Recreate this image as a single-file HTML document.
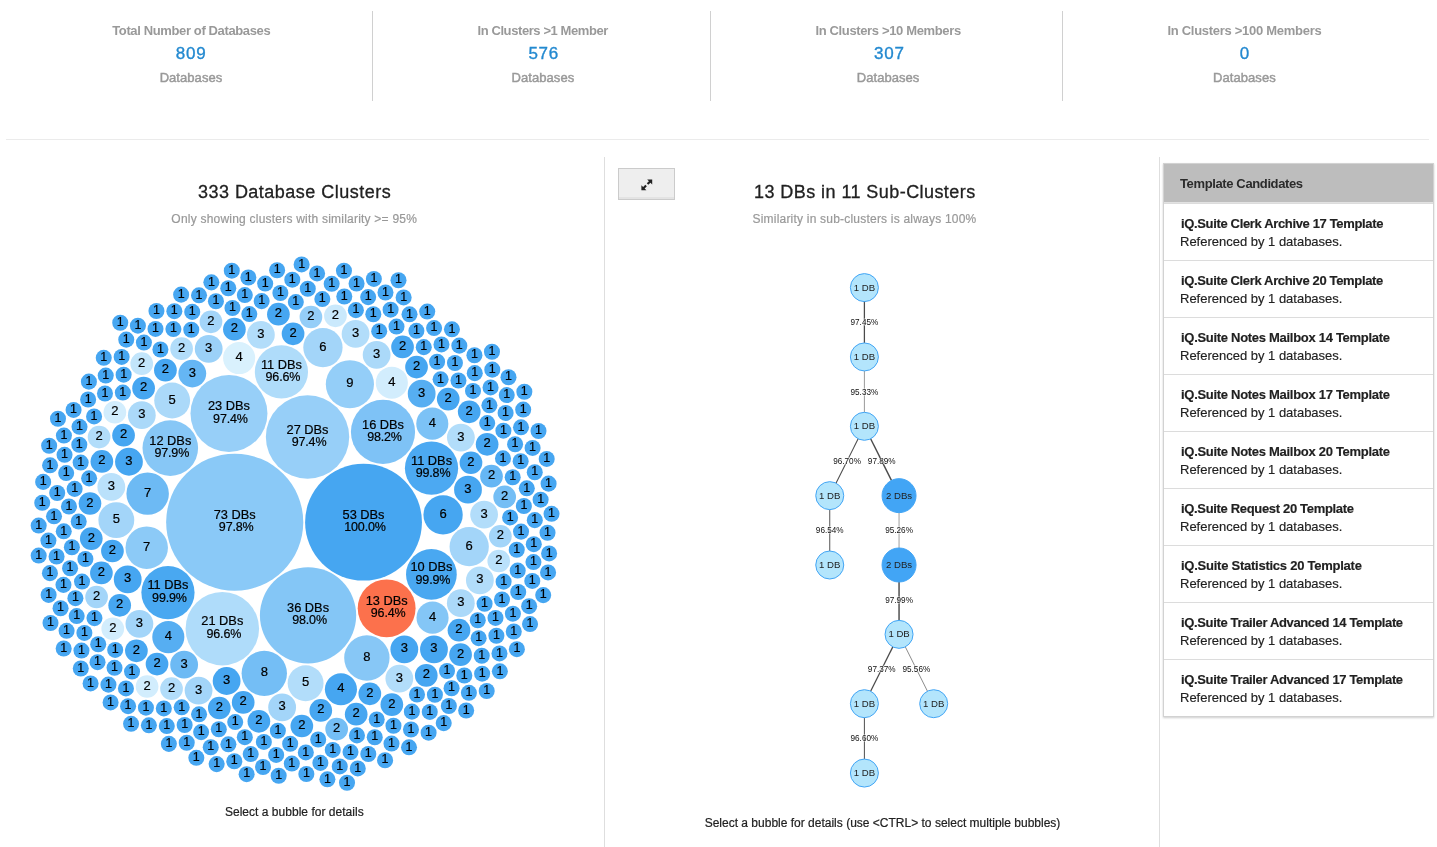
<!DOCTYPE html>
<html lang="en"><head><meta charset="utf-8"><title>Database Clusters</title>
<style>
html,body{margin:0;padding:0;background:#fff}
body{width:1437px;height:847px;position:relative;overflow:hidden;font-family:"Liberation Sans",sans-serif;color:#212121}
.t{position:absolute;white-space:nowrap}
.tm{-webkit-text-stroke:0.45px #999}
.tt{-webkit-text-stroke:0.3px #212121}
.ts{-webkit-text-stroke:0.2px #999}
.tv{-webkit-text-stroke:0.35px #2389d0}
.tc{-webkit-text-stroke:0.2px #212121}
.vr{position:absolute;width:1px;background:#d0d0d0}
.hr{position:absolute;height:1px;background:#ebebeb}
svg{position:absolute;overflow:visible}
.btn{position:absolute;left:618px;top:168px;width:55px;height:30px;border:1px solid #cbcbcb;background:#eee;box-shadow:inset 0 -2px 0 #e3e3e3}
.card{position:absolute;left:1163px;top:163px;width:269px;border:1px solid #d2d2d2;box-shadow:0 1px 2px rgba(0,0,0,.2);background:#fff;box-sizing:content-box}
.card-h{height:38px;border-bottom:1px solid #e2e2e2;background:#bdbdbd;font-weight:700;font-size:13px;line-height:39px;padding-left:16px;color:#2b2b2b;white-space:nowrap}
.card ul{list-style:none;margin:0;padding:0}
.card li{height:56px;border-top:1px solid #dcdcdc;padding-left:16px;box-sizing:content-box;font-size:13px;white-space:nowrap;position:relative}
.card li:first-child{border-top:1px solid #dcdcdc}
.card li b{position:absolute;left:17px;top:11px;line-height:17px;font-weight:700;color:#212121}
.card li span,.card li b{-webkit-text-stroke:0.15px #212121}
.card li span{position:absolute;left:16px;top:29px;line-height:17px;color:#212121}
</style></head><body>
<div class="stats"><div class="stat"><div class="t " style="top:22px;font-size:13px;line-height:18px;color:#999;font-weight:700;letter-spacing:-0.371px;left:191.01px;width:600px;margin-left:-300px;text-align:center;transform:translateX(0.25px);"><span id="st0">Total Number of Databases</span></div><div class="t tv" style="top:42px;font-size:17px;line-height:24px;color:#2389d0;font-weight:400;letter-spacing:0.750px;left:191.57px;width:600px;margin-left:-300px;text-align:center;transform:translateX(-0.40px);"><span id="sv0">809</span></div><div class="t tm" style="top:69px;font-size:13px;line-height:18px;color:#999;font-weight:400;letter-spacing:0.050px;left:191.22px;width:600px;margin-left:-300px;text-align:center;transform:translateX(-0.25px);"><span id="sd0">Databases</span></div></div><div class="stat"><div class="t " style="top:22px;font-size:13px;line-height:18px;color:#999;font-weight:700;letter-spacing:-0.405px;left:543.00px;width:600px;margin-left:-300px;text-align:center;transform:translateX(-0.25px);"><span id="st1">In Clusters &gt;1 Member</span></div><div class="t tv" style="top:42px;font-size:17px;line-height:24px;color:#2389d0;font-weight:400;letter-spacing:0.750px;left:543.58px;width:600px;margin-left:-300px;text-align:center;transform:translateX(0.15px);"><span id="sv1">576</span></div><div class="t tm" style="top:69px;font-size:13px;line-height:18px;color:#999;font-weight:400;letter-spacing:0.050px;left:543.23px;width:600px;margin-left:-300px;text-align:center;transform:translateX(-0.30px);"><span id="sd1">Databases</span></div></div><div class="stat"><div class="t " style="top:22px;font-size:13px;line-height:18px;color:#999;font-weight:700;letter-spacing:-0.355px;left:888.12px;width:600px;margin-left:-300px;text-align:center;"><span id="st2">In Clusters &gt;10 Members</span></div><div class="t tv" style="top:42px;font-size:17px;line-height:24px;color:#2389d0;font-weight:400;letter-spacing:0.750px;left:888.67px;width:600px;margin-left:-300px;text-align:center;transform:translateX(0.65px);"><span id="sv2">307</span></div><div class="t tm" style="top:69px;font-size:13px;line-height:18px;color:#999;font-weight:400;letter-spacing:0.050px;left:888.32px;width:600px;margin-left:-300px;text-align:center;transform:translateX(-0.25px);"><span id="sd2">Databases</span></div></div><div class="stat"><div class="t " style="top:22px;font-size:13px;line-height:18px;color:#999;font-weight:700;letter-spacing:-0.283px;left:1244.16px;width:600px;margin-left:-300px;text-align:center;transform:translateX(0.25px);"><span id="st3">In Clusters &gt;100 Members</span></div><div class="t tv" style="top:42px;font-size:17px;line-height:24px;color:#2389d0;font-weight:400;left:1244.30px;width:600px;margin-left:-300px;text-align:center;transform:translateX(0.15px);"><span id="sv3">0</span></div><div class="t tm" style="top:69px;font-size:13px;line-height:18px;color:#999;font-weight:400;letter-spacing:0.050px;left:1244.33px;width:600px;margin-left:-300px;text-align:center;transform:translateX(0.10px);"><span id="sd3">Databases</span></div></div></div>
<div class="vr" style="left:372px;top:11px;height:90px"></div>
<div class="vr" style="left:710px;top:11px;height:90px"></div>
<div class="vr" style="left:1062px;top:11px;height:90px"></div>
<div class="hr" style="left:6px;top:139px;width:1423px"></div>
<div class="vr" style="left:604px;top:157px;height:690px;background:#dedede"></div>
<div class="vr" style="left:1159px;top:157px;height:690px;background:#dedede"></div>
<section class="left">
<div class="t tt" style="top:180px;font-size:18px;line-height:25px;color:#212121;font-weight:400;letter-spacing:0.480px;left:294.64px;width:600px;margin-left:-300px;text-align:center;transform:translateX(-0.10px);"><span id="t1">333 Database Clusters</span></div>
<div class="t ts" style="top:211px;font-size:12px;line-height:17px;color:#999;font-weight:400;letter-spacing:0.219px;left:294.41px;width:600px;margin-left:-300px;text-align:center;transform:translateX(-0.20px);"><span id="t2">Only showing clusters with similarity &gt;= 95%</span></div>
<svg class="pack" width="550.0" height="550.0" viewBox="0 0 550.0 550.0" style="left:19.15px;top:247.8px"><g><circle cx="215.71" cy="274.20" r="68.55" fill="#8ac9f7"/><circle cx="344.52" cy="274.20" r="58.41" fill="#46a6f1"/><circle cx="289.05" cy="367.33" r="48.14" fill="#84c6f6"/><circle cx="288.54" cy="189.00" r="41.69" fill="#97cff8"/><circle cx="209.97" cy="165.48" r="38.48" fill="#97cff8"/><circle cx="203.32" cy="380.64" r="36.76" fill="#afdcfa"/><circle cx="364.00" cy="183.93" r="32.09" fill="#7ec2f6"/><circle cx="367.65" cy="360.33" r="28.93" fill="#fc714c"/><circle cx="151.30" cy="200.09" r="27.79" fill="#87c7f6"/><circle cx="148.97" cy="344.59" r="26.61" fill="#49a8f1"/><circle cx="412.53" cy="220.15" r="26.61" fill="#4ca9f2"/><circle cx="262.42" cy="123.89" r="26.61" fill="#afdcfa"/><circle cx="412.39" cy="326.40" r="25.37" fill="#49a8f1"/><circle cx="330.89" cy="136.29" r="24.07" fill="#94cef8"/><circle cx="245.28" cy="425.35" r="22.69" fill="#74bef5"/><circle cx="347.88" cy="410.01" r="22.69" fill="#87c7f6"/><circle cx="128.65" cy="245.64" r="21.23" fill="#6dbaf4"/><circle cx="127.71" cy="299.68" r="21.23" fill="#8ccaf7"/><circle cx="424.09" cy="266.85" r="19.65" fill="#46a6f1"/><circle cx="450.19" cy="298.68" r="19.65" fill="#a3d5f9"/><circle cx="303.93" cy="99.55" r="19.65" fill="#a3d5f9"/><circle cx="97.33" cy="272.12" r="17.94" fill="#a3d5f9"/><circle cx="153.16" cy="152.54" r="17.94" fill="#abd9f9"/><circle cx="286.60" cy="435.21" r="17.94" fill="#b2ddfa"/><circle cx="321.93" cy="441.23" r="16.05" fill="#46a6f1"/><circle cx="149.32" cy="389.10" r="16.05" fill="#56aef2"/><circle cx="413.54" cy="369.66" r="16.05" fill="#84c6f6"/><circle cx="413.30" cy="175.65" r="16.05" fill="#7cc2f6"/><circle cx="372.83" cy="134.72" r="16.05" fill="#d2edfd"/><circle cx="220.13" cy="110.03" r="16.05" fill="#d9f1fd"/><circle cx="385.33" cy="401.36" r="13.90" fill="#46a6f1"/><circle cx="207.61" cy="432.98" r="13.90" fill="#46a6f1"/><circle cx="109.96" cy="213.74" r="13.90" fill="#46a6f1"/><circle cx="108.71" cy="331.41" r="13.90" fill="#46a6f1"/><circle cx="448.99" cy="241.69" r="13.90" fill="#46a6f1"/><circle cx="414.97" cy="401.42" r="13.90" fill="#46a6f1"/><circle cx="402.67" cy="145.69" r="13.90" fill="#56aef2"/><circle cx="165.13" cy="416.68" r="13.90" fill="#6dbaf4"/><circle cx="173.30" cy="125.54" r="13.90" fill="#65b6f4"/><circle cx="263.14" cy="459.39" r="13.90" fill="#a3d5f9"/><circle cx="189.69" cy="100.84" r="13.90" fill="#9bd1f8"/><circle cx="441.82" cy="355.13" r="13.90" fill="#abd9f9"/><circle cx="120.41" cy="375.87" r="13.90" fill="#a3d5f9"/><circle cx="179.56" cy="442.58" r="13.90" fill="#a3d5f9"/><circle cx="122.81" cy="167.17" r="13.90" fill="#abd9f9"/><circle cx="441.87" cy="189.61" r="13.90" fill="#b2ddfa"/><circle cx="357.63" cy="106.80" r="13.90" fill="#abd9f9"/><circle cx="380.35" cy="430.58" r="13.90" fill="#b2ddfa"/><circle cx="465.11" cy="266.58" r="13.90" fill="#b2ddfa"/><circle cx="460.88" cy="332.42" r="13.90" fill="#b2ddfa"/><circle cx="336.59" cy="85.91" r="13.90" fill="#b2ddfa"/><circle cx="241.89" cy="86.84" r="13.90" fill="#b2ddfa"/><circle cx="92.32" cy="238.81" r="13.90" fill="#bae1fb"/><circle cx="93.44" cy="303.02" r="11.35" fill="#46a6f1"/><circle cx="100.69" cy="357.29" r="11.35" fill="#46a6f1"/><circle cx="350.82" cy="445.78" r="11.35" fill="#46a6f1"/><circle cx="104.56" cy="187.19" r="11.35" fill="#46a6f1"/><circle cx="224.20" cy="454.40" r="11.35" fill="#46a6f1"/><circle cx="274.08" cy="85.83" r="11.35" fill="#46a6f1"/><circle cx="82.86" cy="213.42" r="11.35" fill="#46a6f1"/><circle cx="82.40" cy="324.94" r="11.35" fill="#46a6f1"/><circle cx="451.97" cy="214.76" r="11.35" fill="#46a6f1"/><circle cx="301.77" cy="462.41" r="11.35" fill="#46a6f1"/><circle cx="239.88" cy="473.28" r="11.35" fill="#46a6f1"/><circle cx="468.13" cy="196.29" r="11.35" fill="#46a6f1"/><circle cx="282.82" cy="478.01" r="11.35" fill="#46a6f1"/><circle cx="138.04" cy="416.08" r="11.35" fill="#46a6f1"/><circle cx="372.84" cy="456.62" r="11.35" fill="#46a6f1"/><circle cx="429.22" cy="151.12" r="11.35" fill="#46a6f1"/><circle cx="397.54" cy="119.08" r="11.35" fill="#46a6f1"/><circle cx="146.41" cy="122.14" r="11.35" fill="#46a6f1"/><circle cx="259.40" cy="66.16" r="11.35" fill="#46a6f1"/><circle cx="439.98" cy="382.16" r="11.35" fill="#46a6f1"/><circle cx="117.40" cy="402.80" r="11.35" fill="#46a6f1"/><circle cx="407.25" cy="427.39" r="11.35" fill="#46a6f1"/><circle cx="450.21" cy="163.83" r="11.35" fill="#46a6f1"/><circle cx="383.55" cy="98.91" r="11.35" fill="#46a6f1"/><circle cx="441.56" cy="406.65" r="11.35" fill="#46a6f1"/><circle cx="124.60" cy="140.13" r="11.35" fill="#46a6f1"/><circle cx="200.31" cy="460.00" r="11.35" fill="#46a6f1"/><circle cx="72.27" cy="290.60" r="11.35" fill="#46a6f1"/><circle cx="337.18" cy="466.18" r="11.35" fill="#46a6f1"/><circle cx="70.99" cy="255.52" r="11.35" fill="#46a6f1"/><circle cx="215.40" cy="81.17" r="11.35" fill="#46a6f1"/><circle cx="472.50" cy="228.21" r="11.35" fill="#65b6f4"/><circle cx="317.68" cy="481.09" r="11.35" fill="#74bef5"/><circle cx="485.67" cy="248.92" r="11.35" fill="#74bef5"/><circle cx="191.97" cy="73.84" r="11.35" fill="#a3d5f9"/><circle cx="291.92" cy="68.98" r="11.35" fill="#94cef8"/><circle cx="481.34" cy="288.27" r="11.35" fill="#a3d5f9"/><circle cx="80.08" cy="189.03" r="11.35" fill="#b2ddfa"/><circle cx="77.59" cy="349.00" r="11.35" fill="#a3d5f9"/><circle cx="162.60" cy="100.64" r="11.35" fill="#b2ddfa"/><circle cx="152.53" cy="440.67" r="11.35" fill="#b2ddfa"/><circle cx="479.76" cy="312.99" r="11.35" fill="#bae1fb"/><circle cx="122.74" cy="115.66" r="11.35" fill="#c2e5fb"/><circle cx="95.87" cy="164.23" r="11.35" fill="#d2edfd"/><circle cx="316.44" cy="67.80" r="11.35" fill="#cae9fc"/><circle cx="93.77" cy="380.84" r="11.35" fill="#d2edfd"/><circle cx="128.08" cy="438.51" r="11.35" fill="#d2edfd"/><circle cx="465.58" cy="355.72" r="8.02" fill="#46a6f1"/><circle cx="421.60" cy="131.31" r="8.02" fill="#46a6f1"/><circle cx="418.08" cy="113.76" r="8.02" fill="#46a6f1"/><circle cx="141.40" cy="101.52" r="8.02" fill="#46a6f1"/><circle cx="66.40" cy="311.00" r="8.02" fill="#46a6f1"/><circle cx="458.76" cy="372.27" r="8.02" fill="#46a6f1"/><circle cx="360.20" cy="83.16" r="8.02" fill="#46a6f1"/><circle cx="59.71" cy="273.49" r="8.02" fill="#46a6f1"/><circle cx="216.21" cy="474.06" r="8.02" fill="#46a6f1"/><circle cx="103.85" cy="144.57" r="8.02" fill="#46a6f1"/><circle cx="70.10" cy="230.37" r="8.02" fill="#46a6f1"/><circle cx="258.86" cy="482.77" r="8.02" fill="#46a6f1"/><circle cx="357.72" cy="471.51" r="8.02" fill="#46a6f1"/><circle cx="225.81" cy="489.16" r="8.02" fill="#46a6f1"/><circle cx="484.00" cy="210.38" r="8.02" fill="#46a6f1"/><circle cx="96.20" cy="401.92" r="8.02" fill="#46a6f1"/><circle cx="271.18" cy="495.75" r="8.02" fill="#46a6f1"/><circle cx="497.75" cy="301.73" r="8.02" fill="#46a6f1"/><circle cx="398.01" cy="446.49" r="8.02" fill="#46a6f1"/><circle cx="428.01" cy="422.99" r="8.02" fill="#46a6f1"/><circle cx="55.62" cy="240.89" r="8.02" fill="#46a6f1"/><circle cx="230.32" cy="66.08" r="8.02" fill="#46a6f1"/><circle cx="299.19" cy="491.51" r="8.02" fill="#46a6f1"/><circle cx="180.05" cy="466.34" r="8.02" fill="#46a6f1"/><circle cx="276.83" cy="54.06" r="8.02" fill="#46a6f1"/><circle cx="377.50" cy="78.57" r="8.02" fill="#46a6f1"/><circle cx="468.21" cy="175.07" r="8.02" fill="#46a6f1"/><circle cx="392.87" cy="463.64" r="8.02" fill="#46a6f1"/><circle cx="491.12" cy="269.43" r="8.02" fill="#46a6f1"/><circle cx="113.02" cy="423.56" r="8.02" fill="#46a6f1"/><circle cx="242.66" cy="53.12" r="8.02" fill="#46a6f1"/><circle cx="172.28" cy="81.76" r="8.02" fill="#46a6f1"/><circle cx="162.67" cy="459.31" r="8.02" fill="#46a6f1"/><circle cx="75.07" cy="168.41" r="8.02" fill="#46a6f1"/><circle cx="439.46" cy="132.53" r="8.02" fill="#46a6f1"/><circle cx="75.46" cy="370.12" r="8.02" fill="#46a6f1"/><circle cx="404.77" cy="99.13" r="8.02" fill="#46a6f1"/><circle cx="454.01" cy="142.95" r="8.02" fill="#46a6f1"/><circle cx="484.62" cy="333.64" r="8.02" fill="#46a6f1"/><circle cx="482.97" cy="351.46" r="8.02" fill="#46a6f1"/><circle cx="459.64" cy="390.15" r="8.02" fill="#46a6f1"/><circle cx="336.89" cy="62.14" r="8.02" fill="#46a6f1"/><circle cx="199.80" cy="481.22" r="8.02" fill="#46a6f1"/><circle cx="462.75" cy="407.77" r="8.02" fill="#46a6f1"/><circle cx="354.31" cy="66.26" r="8.02" fill="#46a6f1"/><circle cx="63.02" cy="333.57" r="8.02" fill="#46a6f1"/><circle cx="61.67" cy="214.57" r="8.02" fill="#46a6f1"/><circle cx="244.86" cy="493.91" r="8.02" fill="#46a6f1"/><circle cx="337.95" cy="487.39" r="8.02" fill="#46a6f1"/><circle cx="51.08" cy="320.24" r="8.02" fill="#46a6f1"/><circle cx="165.64" cy="476.96" r="8.02" fill="#46a6f1"/><circle cx="60.31" cy="196.73" r="8.02" fill="#46a6f1"/><circle cx="493.69" cy="229.28" r="8.02" fill="#46a6f1"/><circle cx="415.91" cy="446.77" r="8.02" fill="#46a6f1"/><circle cx="476.50" cy="369.91" r="8.02" fill="#46a6f1"/><circle cx="422.46" cy="96.41" r="8.02" fill="#46a6f1"/><circle cx="303.35" cy="51.10" r="8.02" fill="#46a6f1"/><circle cx="52.89" cy="299.26" r="8.02" fill="#46a6f1"/><circle cx="213.47" cy="60.03" r="8.02" fill="#46a6f1"/><circle cx="182.14" cy="484.12" r="8.02" fill="#46a6f1"/><circle cx="432.59" cy="440.29" r="8.02" fill="#46a6f1"/><circle cx="355.74" cy="489.29" r="8.02" fill="#46a6f1"/><circle cx="104.61" cy="126.69" r="8.02" fill="#46a6f1"/><circle cx="196.93" cy="53.21" r="8.02" fill="#46a6f1"/><circle cx="124.91" cy="94.55" r="8.02" fill="#46a6f1"/><circle cx="435.94" cy="114.98" r="8.02" fill="#46a6f1"/><circle cx="44.75" cy="283.32" r="8.02" fill="#46a6f1"/><circle cx="49.97" cy="258.48" r="8.02" fill="#46a6f1"/><circle cx="374.48" cy="477.77" r="8.02" fill="#46a6f1"/><circle cx="501.66" cy="213.25" r="8.02" fill="#46a6f1"/><circle cx="502.05" cy="283.61" r="8.02" fill="#46a6f1"/><circle cx="144.81" cy="460.44" r="8.02" fill="#46a6f1"/><circle cx="286.83" cy="504.45" r="8.02" fill="#46a6f1"/><circle cx="85.97" cy="145.47" r="8.02" fill="#46a6f1"/><circle cx="470.41" cy="157.30" r="8.02" fill="#46a6f1"/><circle cx="231.71" cy="506.06" r="8.02" fill="#46a6f1"/><circle cx="397.40" cy="82.83" r="8.02" fill="#46a6f1"/><circle cx="95.52" cy="419.80" r="8.02" fill="#46a6f1"/><circle cx="445.32" cy="427.54" r="8.02" fill="#46a6f1"/><circle cx="477.38" cy="387.79" r="8.02" fill="#46a6f1"/><circle cx="484.41" cy="182.68" r="8.02" fill="#46a6f1"/><circle cx="154.40" cy="81.07" r="8.02" fill="#46a6f1"/><circle cx="136.50" cy="80.91" r="8.02" fill="#46a6f1"/><circle cx="126.93" cy="459.70" r="8.02" fill="#46a6f1"/><circle cx="498.69" cy="322.58" r="8.02" fill="#46a6f1"/><circle cx="496.09" cy="196.25" r="8.02" fill="#46a6f1"/><circle cx="288.77" cy="40.73" r="8.02" fill="#46a6f1"/><circle cx="504.86" cy="257.96" r="8.02" fill="#46a6f1"/><circle cx="209.40" cy="496.32" r="8.02" fill="#46a6f1"/><circle cx="493.88" cy="365.65" r="8.02" fill="#46a6f1"/><circle cx="390.53" cy="66.30" r="8.02" fill="#46a6f1"/><circle cx="38.20" cy="245.00" r="8.02" fill="#46a6f1"/><circle cx="371.61" cy="61.67" r="8.02" fill="#46a6f1"/><circle cx="261.37" cy="45.03" r="8.02" fill="#46a6f1"/><circle cx="257.17" cy="506.90" r="8.02" fill="#46a6f1"/><circle cx="313.74" cy="501.94" r="8.02" fill="#46a6f1"/><circle cx="47.19" cy="225.09" r="8.02" fill="#46a6f1"/><circle cx="471.56" cy="139.44" r="8.02" fill="#46a6f1"/><circle cx="79.21" cy="396.28" r="8.02" fill="#46a6f1"/><circle cx="56.40" cy="350.20" r="8.02" fill="#46a6f1"/><circle cx="391.99" cy="481.51" r="8.02" fill="#46a6f1"/><circle cx="325.29" cy="48.52" r="8.02" fill="#46a6f1"/><circle cx="65.38" cy="384.91" r="8.02" fill="#46a6f1"/><circle cx="514.77" cy="296.20" r="8.02" fill="#46a6f1"/><circle cx="57.68" cy="368.05" r="8.02" fill="#46a6f1"/><circle cx="246.18" cy="35.57" r="8.02" fill="#46a6f1"/><circle cx="410.76" cy="463.91" r="8.02" fill="#46a6f1"/><circle cx="173.23" cy="63.89" r="8.02" fill="#46a6f1"/><circle cx="331.51" cy="504.09" r="8.02" fill="#46a6f1"/><circle cx="514.45" cy="314.09" r="8.02" fill="#46a6f1"/><circle cx="37.57" cy="308.50" r="8.02" fill="#46a6f1"/><circle cx="225.81" cy="47.07" r="8.02" fill="#46a6f1"/><circle cx="507.79" cy="240.31" r="8.02" fill="#46a6f1"/><circle cx="312.68" cy="35.82" r="8.02" fill="#46a6f1"/><circle cx="455.76" cy="125.14" r="8.02" fill="#46a6f1"/><circle cx="69.13" cy="151.52" r="8.02" fill="#46a6f1"/><circle cx="499.23" cy="343.99" r="8.02" fill="#46a6f1"/><circle cx="86.74" cy="127.58" r="8.02" fill="#46a6f1"/><circle cx="372.51" cy="495.56" r="8.02" fill="#46a6f1"/><circle cx="106.94" cy="440.40" r="8.02" fill="#46a6f1"/><circle cx="35.01" cy="268.30" r="8.02" fill="#46a6f1"/><circle cx="60.51" cy="178.83" r="8.02" fill="#46a6f1"/><circle cx="440.32" cy="97.63" r="8.02" fill="#46a6f1"/><circle cx="449.90" cy="444.84" r="8.02" fill="#46a6f1"/><circle cx="349.17" cy="49.12" r="8.02" fill="#46a6f1"/><circle cx="515.79" cy="272.14" r="8.02" fill="#46a6f1"/><circle cx="455.42" cy="107.24" r="8.02" fill="#46a6f1"/><circle cx="147.78" cy="478.09" r="8.02" fill="#46a6f1"/><circle cx="167.73" cy="494.74" r="8.02" fill="#46a6f1"/><circle cx="463.12" cy="425.67" r="8.02" fill="#46a6f1"/><circle cx="486.60" cy="164.92" r="8.02" fill="#46a6f1"/><circle cx="415.09" cy="80.10" r="8.02" fill="#46a6f1"/><circle cx="155.35" cy="63.20" r="8.02" fill="#46a6f1"/><circle cx="102.63" cy="108.90" r="8.02" fill="#46a6f1"/><circle cx="513.30" cy="332.92" r="8.02" fill="#46a6f1"/><circle cx="480.49" cy="405.41" r="8.02" fill="#46a6f1"/><circle cx="44.46" cy="336.87" r="8.02" fill="#46a6f1"/><circle cx="301.37" cy="514.88" r="8.02" fill="#46a6f1"/><circle cx="273.31" cy="31.70" r="8.02" fill="#46a6f1"/><circle cx="45.54" cy="206.83" r="8.02" fill="#46a6f1"/><circle cx="191.74" cy="499.23" r="8.02" fill="#46a6f1"/><circle cx="78.53" cy="414.16" r="8.02" fill="#46a6f1"/><circle cx="89.44" cy="436.64" r="8.02" fill="#46a6f1"/><circle cx="429.86" cy="457.98" r="8.02" fill="#46a6f1"/><circle cx="349.30" cy="505.99" r="8.02" fill="#46a6f1"/><circle cx="337.57" cy="35.49" r="8.02" fill="#46a6f1"/><circle cx="272.82" cy="515.59" r="8.02" fill="#46a6f1"/><circle cx="215.31" cy="513.22" r="8.02" fill="#46a6f1"/><circle cx="180.02" cy="47.33" r="8.02" fill="#46a6f1"/><circle cx="29.42" cy="292.56" r="8.02" fill="#46a6f1"/><circle cx="384.64" cy="49.40" r="8.02" fill="#46a6f1"/><circle cx="31.06" cy="217.35" r="8.02" fill="#46a6f1"/><circle cx="494.76" cy="383.53" r="8.02" fill="#46a6f1"/><circle cx="24.17" cy="233.88" r="8.02" fill="#46a6f1"/><circle cx="244.03" cy="519.04" r="8.02" fill="#46a6f1"/><circle cx="209.27" cy="40.24" r="8.02" fill="#46a6f1"/><circle cx="229.34" cy="29.52" r="8.02" fill="#46a6f1"/><circle cx="366.47" cy="44.53" r="8.02" fill="#46a6f1"/><circle cx="424.72" cy="475.12" r="8.02" fill="#46a6f1"/><circle cx="107.26" cy="91.61" r="8.02" fill="#46a6f1"/><circle cx="473.31" cy="121.63" r="8.02" fill="#46a6f1"/><circle cx="409.60" cy="484.70" r="8.02" fill="#46a6f1"/><circle cx="510.14" cy="358.17" r="8.02" fill="#46a6f1"/><circle cx="515.76" cy="224.28" r="8.02" fill="#46a6f1"/><circle cx="47.60" cy="382.85" r="8.02" fill="#46a6f1"/><circle cx="298.09" cy="25.45" r="8.02" fill="#46a6f1"/><circle cx="109.09" cy="458.17" r="8.02" fill="#46a6f1"/><circle cx="54.58" cy="161.94" r="8.02" fill="#46a6f1"/><circle cx="502.00" cy="179.35" r="8.02" fill="#46a6f1"/><circle cx="44.91" cy="187.60" r="8.02" fill="#46a6f1"/><circle cx="84.75" cy="109.80" r="8.02" fill="#46a6f1"/><circle cx="23.24" cy="254.83" r="8.02" fill="#46a6f1"/><circle cx="390.01" cy="499.30" r="8.02" fill="#46a6f1"/><circle cx="129.90" cy="477.35" r="8.02" fill="#46a6f1"/><circle cx="408.22" cy="63.57" r="8.02" fill="#46a6f1"/><circle cx="521.62" cy="251.67" r="8.02" fill="#46a6f1"/><circle cx="137.45" cy="63.03" r="8.02" fill="#46a6f1"/><circle cx="487.76" cy="147.06" r="8.02" fill="#46a6f1"/><circle cx="504.19" cy="161.59" r="8.02" fill="#46a6f1"/><circle cx="69.90" cy="133.64" r="8.02" fill="#46a6f1"/><circle cx="30.14" cy="197.71" r="8.02" fill="#46a6f1"/><circle cx="30.94" cy="325.13" r="8.02" fill="#46a6f1"/><circle cx="320.76" cy="518.41" r="8.02" fill="#46a6f1"/><circle cx="62.46" cy="402.57" r="8.02" fill="#46a6f1"/><circle cx="528.51" cy="284.73" r="8.02" fill="#46a6f1"/><circle cx="41.58" cy="360.23" r="8.02" fill="#46a6f1"/><circle cx="513.60" cy="199.92" r="8.02" fill="#46a6f1"/><circle cx="447.17" cy="462.53" r="8.02" fill="#46a6f1"/><circle cx="177.33" cy="509.84" r="8.02" fill="#46a6f1"/><circle cx="258.12" cy="22.23" r="8.02" fill="#46a6f1"/><circle cx="432.94" cy="81.32" r="8.02" fill="#46a6f1"/><circle cx="29.63" cy="346.90" r="8.02" fill="#46a6f1"/><circle cx="19.69" cy="277.55" r="8.02" fill="#46a6f1"/><circle cx="467.70" cy="442.97" r="8.02" fill="#46a6f1"/><circle cx="149.87" cy="495.86" r="8.02" fill="#46a6f1"/><circle cx="532.54" cy="265.84" r="8.02" fill="#46a6f1"/><circle cx="197.65" cy="516.12" r="8.02" fill="#46a6f1"/><circle cx="529.06" cy="324.44" r="8.02" fill="#46a6f1"/><circle cx="366.07" cy="512.26" r="8.02" fill="#46a6f1"/><circle cx="118.89" cy="77.69" r="8.02" fill="#46a6f1"/><circle cx="480.86" cy="423.31" r="8.02" fill="#46a6f1"/><circle cx="287.36" cy="526.02" r="8.02" fill="#46a6f1"/><circle cx="61.78" cy="420.46" r="8.02" fill="#46a6f1"/><circle cx="71.59" cy="435.43" r="8.02" fill="#46a6f1"/><circle cx="324.95" cy="22.79" r="8.02" fill="#46a6f1"/><circle cx="308.40" cy="531.34" r="8.02" fill="#46a6f1"/><circle cx="259.67" cy="527.74" r="8.02" fill="#46a6f1"/><circle cx="212.79" cy="22.70" r="8.02" fill="#46a6f1"/><circle cx="497.88" cy="401.15" r="8.02" fill="#46a6f1"/><circle cx="162.14" cy="46.64" r="8.02" fill="#46a6f1"/><circle cx="282.63" cy="16.42" r="8.02" fill="#46a6f1"/><circle cx="192.36" cy="34.36" r="8.02" fill="#46a6f1"/><circle cx="338.76" cy="520.45" r="8.02" fill="#46a6f1"/><circle cx="472.97" cy="103.74" r="8.02" fill="#46a6f1"/><circle cx="524.21" cy="347.11" r="8.02" fill="#46a6f1"/><circle cx="519.51" cy="183.03" r="8.02" fill="#46a6f1"/><circle cx="527.70" cy="210.95" r="8.02" fill="#46a6f1"/><circle cx="38.97" cy="170.71" r="8.02" fill="#46a6f1"/><circle cx="379.50" cy="32.26" r="8.02" fill="#46a6f1"/><circle cx="529.59" cy="235.64" r="8.02" fill="#46a6f1"/><circle cx="101.24" cy="74.76" r="8.02" fill="#46a6f1"/><circle cx="227.63" cy="526.20" r="8.02" fill="#46a6f1"/><circle cx="511.03" cy="376.05" r="8.02" fill="#46a6f1"/><circle cx="91.59" cy="454.41" r="8.02" fill="#46a6f1"/><circle cx="530.11" cy="305.42" r="8.02" fill="#46a6f1"/><circle cx="354.87" cy="30.90" r="8.02" fill="#46a6f1"/><circle cx="112.07" cy="475.82" r="8.02" fill="#46a6f1"/><circle cx="328.01" cy="534.77" r="8.02" fill="#46a6f1"/><circle cx="44.68" cy="400.51" r="8.02" fill="#46a6f1"/><circle cx="31.50" cy="375.03" r="8.02" fill="#46a6f1"/><circle cx="505.35" cy="143.73" r="8.02" fill="#46a6f1"/><circle cx="489.51" cy="129.24" r="8.02" fill="#46a6f1"/><circle cx="19.69" cy="307.58" r="8.02" fill="#46a6f1"/></g><g font-family="Liberation Sans, sans-serif" font-size="12.5" text-anchor="middle" fill="#000" stroke="#000" stroke-width="0.2"><text x="215.71" y="271.00" font-size="12.8">73 DBs</text><text x="217.21" y="283.30" letter-spacing="-0.15">97.8%</text><text x="344.52" y="271.00" font-size="12.8">53 DBs</text><text x="346.02" y="283.30" letter-spacing="-0.15">100.0%</text><text x="289.05" y="364.13" font-size="12.8">36 DBs</text><text x="290.55" y="376.43" letter-spacing="-0.15">98.0%</text><text x="288.54" y="185.80" font-size="12.8">27 DBs</text><text x="290.04" y="198.10" letter-spacing="-0.15">97.4%</text><text x="209.97" y="162.28" font-size="12.8">23 DBs</text><text x="211.47" y="174.58" letter-spacing="-0.15">97.4%</text><text x="203.32" y="377.44" font-size="12.8">21 DBs</text><text x="204.82" y="389.74" letter-spacing="-0.15">96.6%</text><text x="364.00" y="180.73" font-size="12.8">16 DBs</text><text x="365.50" y="193.03" letter-spacing="-0.15">98.2%</text><text x="367.65" y="357.13" font-size="12.8">13 DBs</text><text x="369.15" y="369.43" letter-spacing="-0.15">96.4%</text><text x="151.30" y="196.89" font-size="12.8">12 DBs</text><text x="152.80" y="209.19" letter-spacing="-0.15">97.9%</text><text x="148.97" y="341.39" font-size="12.8">11 DBs</text><text x="150.47" y="353.69" letter-spacing="-0.15">99.9%</text><text x="412.53" y="216.95" font-size="12.8">11 DBs</text><text x="414.03" y="229.25" letter-spacing="-0.15">99.8%</text><text x="262.42" y="120.69" font-size="12.8">11 DBs</text><text x="263.92" y="132.99" letter-spacing="-0.15">96.6%</text><text x="412.39" y="323.20" font-size="12.8">10 DBs</text><text x="413.89" y="335.50" letter-spacing="-0.15">99.9%</text><text x="330.89" y="139.29" font-size="13">9</text><text x="245.28" y="428.35" font-size="13">8</text><text x="347.88" y="413.01" font-size="13">8</text><text x="128.65" y="248.64" font-size="13">7</text><text x="127.71" y="302.68" font-size="13">7</text><text x="424.09" y="269.85" font-size="13">6</text><text x="450.19" y="301.68" font-size="13">6</text><text x="303.93" y="102.55" font-size="13">6</text><text x="97.33" y="275.12" font-size="13">5</text><text x="153.16" y="155.54" font-size="13">5</text><text x="286.60" y="438.21" font-size="13">5</text><text x="321.93" y="444.23" font-size="13">4</text><text x="149.32" y="392.10" font-size="13">4</text><text x="413.54" y="372.66" font-size="13">4</text><text x="413.30" y="178.65" font-size="13">4</text><text x="372.83" y="137.72" font-size="13">4</text><text x="220.13" y="113.03" font-size="13">4</text><text x="385.33" y="404.36" font-size="13">3</text><text x="207.61" y="435.98" font-size="13">3</text><text x="109.96" y="216.74" font-size="13">3</text><text x="108.71" y="334.41" font-size="13">3</text><text x="448.99" y="244.69" font-size="13">3</text><text x="414.97" y="404.42" font-size="13">3</text><text x="402.67" y="148.69" font-size="13">3</text><text x="165.13" y="419.68" font-size="13">3</text><text x="173.30" y="128.54" font-size="13">3</text><text x="263.14" y="462.39" font-size="13">3</text><text x="189.69" y="103.84" font-size="13">3</text><text x="441.82" y="358.13" font-size="13">3</text><text x="120.41" y="378.87" font-size="13">3</text><text x="179.56" y="445.58" font-size="13">3</text><text x="122.81" y="170.17" font-size="13">3</text><text x="441.87" y="192.61" font-size="13">3</text><text x="357.63" y="109.80" font-size="13">3</text><text x="380.35" y="433.58" font-size="13">3</text><text x="465.11" y="269.58" font-size="13">3</text><text x="460.88" y="335.42" font-size="13">3</text><text x="336.59" y="88.91" font-size="13">3</text><text x="241.89" y="89.84" font-size="13">3</text><text x="92.32" y="241.81" font-size="13">3</text><text x="93.44" y="306.02" font-size="13">2</text><text x="100.69" y="360.29" font-size="13">2</text><text x="350.82" y="448.78" font-size="13">2</text><text x="104.56" y="190.19" font-size="13">2</text><text x="224.20" y="457.40" font-size="13">2</text><text x="274.08" y="88.83" font-size="13">2</text><text x="82.86" y="216.42" font-size="13">2</text><text x="82.40" y="327.94" font-size="13">2</text><text x="451.97" y="217.76" font-size="13">2</text><text x="301.77" y="465.41" font-size="13">2</text><text x="239.88" y="476.28" font-size="13">2</text><text x="468.13" y="199.29" font-size="13">2</text><text x="282.82" y="481.01" font-size="13">2</text><text x="138.04" y="419.08" font-size="13">2</text><text x="372.84" y="459.62" font-size="13">2</text><text x="429.22" y="154.12" font-size="13">2</text><text x="397.54" y="122.08" font-size="13">2</text><text x="146.41" y="125.14" font-size="13">2</text><text x="259.40" y="69.16" font-size="13">2</text><text x="439.98" y="385.16" font-size="13">2</text><text x="117.40" y="405.80" font-size="13">2</text><text x="407.25" y="430.39" font-size="13">2</text><text x="450.21" y="166.83" font-size="13">2</text><text x="383.55" y="101.91" font-size="13">2</text><text x="441.56" y="409.65" font-size="13">2</text><text x="124.60" y="143.13" font-size="13">2</text><text x="200.31" y="463.00" font-size="13">2</text><text x="72.27" y="293.60" font-size="13">2</text><text x="337.18" y="469.18" font-size="13">2</text><text x="70.99" y="258.52" font-size="13">2</text><text x="215.40" y="84.17" font-size="13">2</text><text x="472.50" y="231.21" font-size="13">2</text><text x="317.68" y="484.09" font-size="13">2</text><text x="485.67" y="251.92" font-size="13">2</text><text x="191.97" y="76.84" font-size="13">2</text><text x="291.92" y="71.98" font-size="13">2</text><text x="481.34" y="291.27" font-size="13">2</text><text x="80.08" y="192.03" font-size="13">2</text><text x="77.59" y="352.00" font-size="13">2</text><text x="162.60" y="103.64" font-size="13">2</text><text x="152.53" y="443.67" font-size="13">2</text><text x="479.76" y="315.99" font-size="13">2</text><text x="122.74" y="118.66" font-size="13">2</text><text x="95.87" y="167.23" font-size="13">2</text><text x="316.44" y="70.80" font-size="13">2</text><text x="93.77" y="383.84" font-size="13">2</text><text x="128.08" y="441.51" font-size="13">2</text><text x="465.58" y="358.92">1</text><text x="421.60" y="134.51">1</text><text x="418.08" y="116.96">1</text><text x="141.40" y="104.72">1</text><text x="66.40" y="314.20">1</text><text x="458.76" y="375.47">1</text><text x="360.20" y="86.36">1</text><text x="59.71" y="276.69">1</text><text x="216.21" y="477.26">1</text><text x="103.85" y="147.77">1</text><text x="70.10" y="233.57">1</text><text x="258.86" y="485.97">1</text><text x="357.72" y="474.71">1</text><text x="225.81" y="492.36">1</text><text x="484.00" y="213.58">1</text><text x="96.20" y="405.12">1</text><text x="271.18" y="498.95">1</text><text x="497.75" y="304.93">1</text><text x="398.01" y="449.69">1</text><text x="428.01" y="426.19">1</text><text x="55.62" y="244.09">1</text><text x="230.32" y="69.28">1</text><text x="299.19" y="494.71">1</text><text x="180.05" y="469.54">1</text><text x="276.83" y="57.26">1</text><text x="377.50" y="81.77">1</text><text x="468.21" y="178.27">1</text><text x="392.87" y="466.84">1</text><text x="491.12" y="272.63">1</text><text x="113.02" y="426.76">1</text><text x="242.66" y="56.32">1</text><text x="172.28" y="84.96">1</text><text x="162.67" y="462.51">1</text><text x="75.07" y="171.61">1</text><text x="439.46" y="135.73">1</text><text x="75.46" y="373.32">1</text><text x="404.77" y="102.33">1</text><text x="454.01" y="146.15">1</text><text x="484.62" y="336.84">1</text><text x="482.97" y="354.66">1</text><text x="459.64" y="393.35">1</text><text x="336.89" y="65.34">1</text><text x="199.80" y="484.42">1</text><text x="462.75" y="410.97">1</text><text x="354.31" y="69.46">1</text><text x="63.02" y="336.77">1</text><text x="61.67" y="217.77">1</text><text x="244.86" y="497.11">1</text><text x="337.95" y="490.59">1</text><text x="51.08" y="323.44">1</text><text x="165.64" y="480.16">1</text><text x="60.31" y="199.93">1</text><text x="493.69" y="232.48">1</text><text x="415.91" y="449.97">1</text><text x="476.50" y="373.11">1</text><text x="422.46" y="99.61">1</text><text x="303.35" y="54.30">1</text><text x="52.89" y="302.46">1</text><text x="213.47" y="63.23">1</text><text x="182.14" y="487.32">1</text><text x="432.59" y="443.49">1</text><text x="355.74" y="492.49">1</text><text x="104.61" y="129.89">1</text><text x="196.93" y="56.41">1</text><text x="124.91" y="97.75">1</text><text x="435.94" y="118.18">1</text><text x="44.75" y="286.52">1</text><text x="49.97" y="261.68">1</text><text x="374.48" y="480.97">1</text><text x="501.66" y="216.45">1</text><text x="502.05" y="286.81">1</text><text x="144.81" y="463.64">1</text><text x="286.83" y="507.65">1</text><text x="85.97" y="148.67">1</text><text x="470.41" y="160.50">1</text><text x="231.71" y="509.26">1</text><text x="397.40" y="86.03">1</text><text x="95.52" y="423.00">1</text><text x="445.32" y="430.74">1</text><text x="477.38" y="390.99">1</text><text x="484.41" y="185.88">1</text><text x="154.40" y="84.27">1</text><text x="136.50" y="84.11">1</text><text x="126.93" y="462.90">1</text><text x="498.69" y="325.78">1</text><text x="496.09" y="199.45">1</text><text x="288.77" y="43.93">1</text><text x="504.86" y="261.16">1</text><text x="209.40" y="499.52">1</text><text x="493.88" y="368.85">1</text><text x="390.53" y="69.50">1</text><text x="38.20" y="248.20">1</text><text x="371.61" y="64.87">1</text><text x="261.37" y="48.23">1</text><text x="257.17" y="510.10">1</text><text x="313.74" y="505.14">1</text><text x="47.19" y="228.29">1</text><text x="471.56" y="142.64">1</text><text x="79.21" y="399.48">1</text><text x="56.40" y="353.40">1</text><text x="391.99" y="484.71">1</text><text x="325.29" y="51.72">1</text><text x="65.38" y="388.11">1</text><text x="514.77" y="299.40">1</text><text x="57.68" y="371.25">1</text><text x="246.18" y="38.77">1</text><text x="410.76" y="467.11">1</text><text x="173.23" y="67.09">1</text><text x="331.51" y="507.29">1</text><text x="514.45" y="317.29">1</text><text x="37.57" y="311.70">1</text><text x="225.81" y="50.27">1</text><text x="507.79" y="243.51">1</text><text x="312.68" y="39.02">1</text><text x="455.76" y="128.34">1</text><text x="69.13" y="154.72">1</text><text x="499.23" y="347.19">1</text><text x="86.74" y="130.78">1</text><text x="372.51" y="498.76">1</text><text x="106.94" y="443.60">1</text><text x="35.01" y="271.50">1</text><text x="60.51" y="182.03">1</text><text x="440.32" y="100.83">1</text><text x="449.90" y="448.04">1</text><text x="349.17" y="52.32">1</text><text x="515.79" y="275.34">1</text><text x="455.42" y="110.44">1</text><text x="147.78" y="481.29">1</text><text x="167.73" y="497.94">1</text><text x="463.12" y="428.87">1</text><text x="486.60" y="168.12">1</text><text x="415.09" y="83.30">1</text><text x="155.35" y="66.40">1</text><text x="102.63" y="112.10">1</text><text x="513.30" y="336.12">1</text><text x="480.49" y="408.61">1</text><text x="44.46" y="340.07">1</text><text x="301.37" y="518.08">1</text><text x="273.31" y="34.90">1</text><text x="45.54" y="210.03">1</text><text x="191.74" y="502.43">1</text><text x="78.53" y="417.36">1</text><text x="89.44" y="439.84">1</text><text x="429.86" y="461.18">1</text><text x="349.30" y="509.19">1</text><text x="337.57" y="38.69">1</text><text x="272.82" y="518.79">1</text><text x="215.31" y="516.42">1</text><text x="180.02" y="50.53">1</text><text x="29.42" y="295.76">1</text><text x="384.64" y="52.60">1</text><text x="31.06" y="220.55">1</text><text x="494.76" y="386.73">1</text><text x="24.17" y="237.08">1</text><text x="244.03" y="522.24">1</text><text x="209.27" y="43.44">1</text><text x="229.34" y="32.72">1</text><text x="366.47" y="47.73">1</text><text x="424.72" y="478.32">1</text><text x="107.26" y="94.81">1</text><text x="473.31" y="124.83">1</text><text x="409.60" y="487.90">1</text><text x="510.14" y="361.37">1</text><text x="515.76" y="227.48">1</text><text x="47.60" y="386.05">1</text><text x="298.09" y="28.65">1</text><text x="109.09" y="461.37">1</text><text x="54.58" y="165.14">1</text><text x="502.00" y="182.55">1</text><text x="44.91" y="190.80">1</text><text x="84.75" y="113.00">1</text><text x="23.24" y="258.03">1</text><text x="390.01" y="502.50">1</text><text x="129.90" y="480.55">1</text><text x="408.22" y="66.77">1</text><text x="521.62" y="254.87">1</text><text x="137.45" y="66.23">1</text><text x="487.76" y="150.26">1</text><text x="504.19" y="164.79">1</text><text x="69.90" y="136.84">1</text><text x="30.14" y="200.91">1</text><text x="30.94" y="328.33">1</text><text x="320.76" y="521.61">1</text><text x="62.46" y="405.77">1</text><text x="528.51" y="287.93">1</text><text x="41.58" y="363.43">1</text><text x="513.60" y="203.12">1</text><text x="447.17" y="465.73">1</text><text x="177.33" y="513.04">1</text><text x="258.12" y="25.43">1</text><text x="432.94" y="84.52">1</text><text x="29.63" y="350.10">1</text><text x="19.69" y="280.75">1</text><text x="467.70" y="446.17">1</text><text x="149.87" y="499.06">1</text><text x="532.54" y="269.04">1</text><text x="197.65" y="519.32">1</text><text x="529.06" y="327.64">1</text><text x="366.07" y="515.46">1</text><text x="118.89" y="80.89">1</text><text x="480.86" y="426.51">1</text><text x="287.36" y="529.22">1</text><text x="61.78" y="423.66">1</text><text x="71.59" y="438.63">1</text><text x="324.95" y="25.99">1</text><text x="308.40" y="534.54">1</text><text x="259.67" y="530.94">1</text><text x="212.79" y="25.90">1</text><text x="497.88" y="404.35">1</text><text x="162.14" y="49.84">1</text><text x="282.63" y="19.62">1</text><text x="192.36" y="37.56">1</text><text x="338.76" y="523.65">1</text><text x="472.97" y="106.94">1</text><text x="524.21" y="350.31">1</text><text x="519.51" y="186.23">1</text><text x="527.70" y="214.15">1</text><text x="38.97" y="173.91">1</text><text x="379.50" y="35.46">1</text><text x="529.59" y="238.84">1</text><text x="101.24" y="77.96">1</text><text x="227.63" y="529.40">1</text><text x="511.03" y="379.25">1</text><text x="91.59" y="457.61">1</text><text x="530.11" y="308.62">1</text><text x="354.87" y="34.10">1</text><text x="112.07" y="479.02">1</text><text x="328.01" y="537.97">1</text><text x="44.68" y="403.71">1</text><text x="31.50" y="378.23">1</text><text x="505.35" y="146.93">1</text><text x="489.51" y="132.44">1</text><text x="19.69" y="310.78">1</text></g></svg>
<div class="t tc" style="top:804px;font-size:12px;line-height:17px;color:#212121;font-weight:400;letter-spacing:0.023px;left:294.41px;width:600px;margin-left:-300px;text-align:center;transform:translateX(-0.10px);"><span id="t3">Select a bubble for details</span></div>
</section>
<section class="mid">
<div class="btn"><svg width="11.6" height="11.6" viewBox="0 0 12 12" style="left:21.7px;top:9.5px"><path d="M6.4 0.4L11.6 0.4 11.6 5.6 9.78 3.78 7.52 6.04 5.96 4.48 8.22 2.22Z M5.6 11.6L0.4 11.6 0.4 6.4 2.22 8.22 4.48 5.96 6.04 7.52 3.78 9.78Z" fill="#222"/></svg></div>
<div class="t tt" style="top:180px;font-size:18px;line-height:25px;color:#212121;font-weight:400;letter-spacing:0.433px;left:865.02px;width:600px;margin-left:-300px;text-align:center;transform:translateX(-0.20px);"><span id="t4">13 DBs in 11 Sub-Clusters</span></div>
<div class="t ts" style="top:211px;font-size:12px;line-height:17px;color:#999;font-weight:400;letter-spacing:0.210px;left:864.81px;width:600px;margin-left:-300px;text-align:center;transform:translateX(-0.30px);"><span id="t5">Similarity in sub-clusters is always 100%</span></div>
<svg class="tree" width="554" height="690" viewBox="605 157 554 690" style="left:605px;top:157px"><g font-family="Liberation Sans, sans-serif"><line x1="864.40" y1="287.60" x2="864.40" y2="356.95" stroke="#4a4a4a" stroke-width="1.27"/><line x1="864.40" y1="356.95" x2="864.40" y2="426.30" stroke="#4a4a4a" stroke-width="0.56"/><line x1="864.40" y1="426.30" x2="829.75" y2="495.65" stroke="#4a4a4a" stroke-width="1.02"/><line x1="864.40" y1="426.30" x2="899.05" y2="495.65" stroke="#4a4a4a" stroke-width="1.41"/><line x1="829.75" y1="495.65" x2="829.75" y2="565.00" stroke="#4a4a4a" stroke-width="0.96"/><line x1="899.05" y1="495.65" x2="899.05" y2="565.00" stroke="#4a4a4a" stroke-width="0.54"/><line x1="899.05" y1="565.00" x2="899.05" y2="634.35" stroke="#4a4a4a" stroke-width="1.45"/><line x1="899.05" y1="634.35" x2="864.40" y2="703.70" stroke="#4a4a4a" stroke-width="1.24"/><line x1="899.05" y1="634.35" x2="933.70" y2="703.70" stroke="#4a4a4a" stroke-width="0.64"/><line x1="864.40" y1="703.70" x2="864.40" y2="773.05" stroke="#4a4a4a" stroke-width="0.98"/><text x="864.40" y="325.28" font-size="8.2" text-anchor="middle" fill="#111" stroke="#fff" stroke-width="1.1" paint-order="stroke" stroke-opacity="0.8">97.45%</text><text x="864.40" y="394.62" font-size="8.2" text-anchor="middle" fill="#111" stroke="#fff" stroke-width="1.1" paint-order="stroke" stroke-opacity="0.8">95.33%</text><text x="847.08" y="463.98" font-size="8.2" text-anchor="middle" fill="#111" stroke="#fff" stroke-width="1.1" paint-order="stroke" stroke-opacity="0.8">96.70%</text><text x="881.72" y="463.98" font-size="8.2" text-anchor="middle" fill="#111" stroke="#fff" stroke-width="1.1" paint-order="stroke" stroke-opacity="0.8">97.89%</text><text x="829.75" y="533.33" font-size="8.2" text-anchor="middle" fill="#111" stroke="#fff" stroke-width="1.1" paint-order="stroke" stroke-opacity="0.8">96.54%</text><text x="899.05" y="533.33" font-size="8.2" text-anchor="middle" fill="#111" stroke="#fff" stroke-width="1.1" paint-order="stroke" stroke-opacity="0.8">95.26%</text><text x="899.05" y="602.67" font-size="8.2" text-anchor="middle" fill="#111" stroke="#fff" stroke-width="1.1" paint-order="stroke" stroke-opacity="0.8">97.99%</text><text x="881.72" y="672.03" font-size="8.2" text-anchor="middle" fill="#111" stroke="#fff" stroke-width="1.1" paint-order="stroke" stroke-opacity="0.8">97.37%</text><text x="916.38" y="672.03" font-size="8.2" text-anchor="middle" fill="#111" stroke="#fff" stroke-width="1.1" paint-order="stroke" stroke-opacity="0.8">95.56%</text><text x="864.40" y="741.38" font-size="8.2" text-anchor="middle" fill="#111" stroke="#fff" stroke-width="1.1" paint-order="stroke" stroke-opacity="0.8">96.60%</text><circle cx="864.40" cy="287.60" r="14" fill="#b3e5fc" stroke="#42a5f5" stroke-width="1"/><text x="864.40" y="290.70" font-size="9.6" text-anchor="middle" fill="#222">1 DB</text><circle cx="864.40" cy="356.95" r="14" fill="#b3e5fc" stroke="#42a5f5" stroke-width="1"/><text x="864.40" y="360.05" font-size="9.6" text-anchor="middle" fill="#222">1 DB</text><circle cx="864.40" cy="426.30" r="14" fill="#b3e5fc" stroke="#42a5f5" stroke-width="1"/><text x="864.40" y="429.40" font-size="9.6" text-anchor="middle" fill="#222">1 DB</text><circle cx="829.75" cy="495.65" r="14" fill="#b3e5fc" stroke="#42a5f5" stroke-width="1"/><text x="829.75" y="498.75" font-size="9.6" text-anchor="middle" fill="#222">1 DB</text><circle cx="899.05" cy="495.65" r="17" fill="#42a5f5" stroke="#42a5f5" stroke-width="1"/><text x="899.05" y="498.75" font-size="9.6" text-anchor="middle" fill="#222">2 DBs</text><circle cx="829.75" cy="565.00" r="14" fill="#b3e5fc" stroke="#42a5f5" stroke-width="1"/><text x="829.75" y="568.10" font-size="9.6" text-anchor="middle" fill="#222">1 DB</text><circle cx="899.05" cy="565.00" r="17" fill="#42a5f5" stroke="#42a5f5" stroke-width="1"/><text x="899.05" y="568.10" font-size="9.6" text-anchor="middle" fill="#222">2 DBs</text><circle cx="899.05" cy="634.35" r="14" fill="#b3e5fc" stroke="#42a5f5" stroke-width="1"/><text x="899.05" y="637.45" font-size="9.6" text-anchor="middle" fill="#222">1 DB</text><circle cx="864.40" cy="703.70" r="14" fill="#b3e5fc" stroke="#42a5f5" stroke-width="1"/><text x="864.40" y="706.80" font-size="9.6" text-anchor="middle" fill="#222">1 DB</text><circle cx="933.70" cy="703.70" r="14" fill="#b3e5fc" stroke="#42a5f5" stroke-width="1"/><text x="933.70" y="706.80" font-size="9.6" text-anchor="middle" fill="#222">1 DB</text><circle cx="864.40" cy="773.05" r="14" fill="#b3e5fc" stroke="#42a5f5" stroke-width="1"/><text x="864.40" y="776.15" font-size="9.6" text-anchor="middle" fill="#222">1 DB</text></g></svg>
<div class="t tc" style="top:815px;font-size:12px;line-height:17px;color:#212121;font-weight:400;letter-spacing:0.003px;left:882.00px;width:600px;margin-left:-300px;text-align:center;transform:translateX(0.50px);"><span id="t6">Select a bubble for details (use &lt;CTRL&gt; to select multiple bubbles)</span></div>
</section>
<aside><div class="card"><div class="card-h"><span id="tc" style="letter-spacing:-0.372px">Template Candidates</span></div><ul><li><b id="it0" style="letter-spacing:-0.348px">iQ.Suite Clerk Archive 17 Template</b><span id="ref0" style="letter-spacing:-0.008px">Referenced by 1 databases.</span></li><li><b id="it1" style="letter-spacing:-0.352px">iQ.Suite Clerk Archive 20 Template</b><span id="ref1" style="letter-spacing:-0.008px">Referenced by 1 databases.</span></li><li><b id="it2" style="letter-spacing:-0.294px">iQ.Suite Notes Mailbox 14 Template</b><span id="ref2" style="letter-spacing:-0.008px">Referenced by 1 databases.</span></li><li><b id="it3" style="letter-spacing:-0.294px">iQ.Suite Notes Mailbox 17 Template</b><span id="ref3" style="letter-spacing:-0.008px">Referenced by 1 databases.</span></li><li><b id="it4" style="letter-spacing:-0.294px">iQ.Suite Notes Mailbox 20 Template</b><span id="ref4" style="letter-spacing:-0.008px">Referenced by 1 databases.</span></li><li><b id="it5" style="letter-spacing:-0.330px">iQ.Suite Request 20 Template</b><span id="ref5" style="letter-spacing:-0.008px">Referenced by 1 databases.</span></li><li><b id="it6" style="letter-spacing:-0.247px">iQ.Suite Statistics 20 Template</b><span id="ref6" style="letter-spacing:-0.008px">Referenced by 1 databases.</span></li><li><b id="it7" style="letter-spacing:-0.353px">iQ.Suite Trailer Advanced 14 Template</b><span id="ref7" style="letter-spacing:-0.008px">Referenced by 1 databases.</span></li><li><b id="it8" style="letter-spacing:-0.353px">iQ.Suite Trailer Advanced 17 Template</b><span id="ref8" style="letter-spacing:-0.008px">Referenced by 1 databases.</span></li></ul></div></aside>
</body></html>
